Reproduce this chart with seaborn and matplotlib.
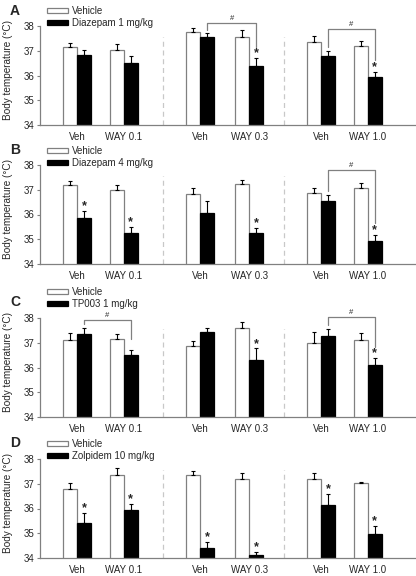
import numpy as np
import pandas as pd
import matplotlib
matplotlib.use("Agg")
import matplotlib.pyplot as plt
import seaborn as sns

# ── data (mean ± SEM, °C) ──────────────────────────────────────────
tick_labels = ["Veh", "WAY 0.1", "Veh", "WAY 0.3", "Veh", "WAY 1.0"]
panel_names = ["A", "B", "C", "D"]
drug_names = ["Diazepam 1 mg/kg", "Diazepam 4 mg/kg", "TP003 1 mg/kg", "Zolpidem 10 mg/kg"]

veh_A = [37.14, 37.03, 37.74, 37.54, 37.36, 37.18]
veh_sem_A = [0.16, 0.24, 0.16, 0.30, 0.24, 0.20]
drug_A = [36.81, 36.51, 37.57, 36.39, 36.79, 35.95]
drug_sem_A = [0.23, 0.28, 0.13, 0.30, 0.21, 0.21]
stars_A = [0, 0, 0, 1, 0, 1]

veh_B = [37.19, 36.97, 36.83, 37.24, 36.88, 37.09]
veh_sem_B = [0.16, 0.24, 0.24, 0.16, 0.20, 0.17]
drug_B = [35.87, 35.24, 36.07, 35.24, 36.55, 34.92]
drug_sem_B = [0.27, 0.27, 0.48, 0.21, 0.24, 0.27]
stars_B = [1, 1, 0, 1, 0, 1]

veh_C = [37.12, 37.15, 36.86, 37.60, 36.97, 37.11]
veh_sem_C = [0.27, 0.20, 0.22, 0.24, 0.46, 0.27]
drug_C = [37.37, 36.49, 37.42, 36.30, 37.27, 36.10]
drug_sem_C = [0.23, 0.23, 0.18, 0.47, 0.30, 0.27]
stars_C = [0, 0, 0, 1, 0, 1]

veh_D = [36.80, 37.35, 37.34, 37.19, 37.18, 37.02]
veh_sem_D = [0.23, 0.28, 0.18, 0.26, 0.26, 0.05]
drug_D = [35.41, 35.95, 34.40, 34.12, 36.15, 34.97]
drug_sem_D = [0.40, 0.24, 0.23, 0.12, 0.42, 0.34]
stars_D = [1, 1, 1, 1, 1, 1]

# "#" comparisons: (from bar, to bar, bracket height)
hash_A = [(2, 3, 38.12), (4, 5, 37.88)]
hash_B = [(4, 5, 37.80)]
hash_C = [(0, 1, 37.93), (4, 5, 38.04)]
hash_D = []

# ── layout ─────────────────────────────────────────────────────────
positions = [0, 1, 2.65, 3.7, 5.25, 6.25]
separators = [1.85, 4.45]
W, H = 416, 576
axes_px = [26, 165, 318, 459]          # top of each panel (px)
label_px = [11, 150, 302, 443]         # panel letter y (px)
legend_px = [11, 151, 292, 444]        # first legend row y (px)
GRAY = "#808080"

sns.set_theme(style="white")
plt.rcParams["font.family"] = ["Liberation Sans", "DejaVu Sans"]

panels = [
    (veh_A, veh_sem_A, drug_A, drug_sem_A, stars_A, hash_A),
    (veh_B, veh_sem_B, drug_B, drug_sem_B, stars_B, hash_B),
    (veh_C, veh_sem_C, drug_C, drug_sem_C, stars_C, hash_C),
    (veh_D, veh_sem_D, drug_D, drug_sem_D, stars_D, hash_D),
]

fig = plt.figure(figsize=(W / 100, H / 100), dpi=100)

for k, (veh, veh_sem, drug, drug_sem, stars, hashes) in enumerate(panels):
    top = axes_px[k]
    ax = fig.add_axes([40 / W, 1 - (top + 99) / H, 375 / W, 99 / H])

    df = pd.DataFrame({
        "pos": positions * 2,
        "temp": veh + drug,
        "treat": ["Vehicle"] * 6 + [drug_names[k]] * 6,
    })
    sns.barplot(data=df, x="pos", y="temp", hue="treat", native_scale=True,
                width=0.6, gap=0, errorbar=None, ax=ax,
                palette={"Vehicle": "white", drug_names[k]: "black"},
                linewidth=0.9, legend=False)

    veh_bars, drug_bars = ax.containers[0], ax.containers[1]
    for b in veh_bars:
        b.set_edgecolor(GRAY)
    for b in drug_bars:
        b.set_edgecolor("black")

    # upward SEM error bars
    for bars, sem in [(veh_bars, veh_sem), (drug_bars, drug_sem)]:
        xs = [b.get_x() + b.get_width() / 2 for b in bars]
        ys = [b.get_height() for b in bars]
        ax.errorbar(xs, ys, yerr=[np.zeros(len(sem)), sem], fmt="none",
                    ecolor="black", elinewidth=0.8, capsize=1.6, capthick=0.8)

    # significance stars
    for b, s, e in zip(drug_bars, stars, drug_sem):
        if s:
            ax.text(b.get_x() + b.get_width() / 2, b.get_height() + e - 0.05, "*",
                    ha="center", va="bottom", fontsize=9, fontweight="bold")

    # "#" brackets between drug bars
    for i, j, h in hashes:
        bi, bj = drug_bars[i], drug_bars[j]
        xi = bi.get_x() + bi.get_width() / 2
        xj = bj.get_x() + bj.get_width() / 2
        yi = bi.get_height() + drug_sem[i] + 0.15
        yj = bj.get_height() + drug_sem[j] + 0.45
        ax.plot([xi, xi, xj, xj], [yi, h, h, yj], color=GRAY, lw=0.9,
                clip_on=False)
        ax.text((xi + xj) / 2, h + 0.03, "#", ha="center", va="bottom",
                fontsize=5.5)

    for sx in separators:
        ax.plot([sx, sx], [34, 37.55], ls=(0, (4, 3)), color="#c8c8c8", lw=0.9)

    ax.set_xlim(-0.8, 7.27)
    ax.set_ylim(34, 38)
    ax.set_yticks([34, 35, 36, 37, 38])
    ax.set_xticks(positions)
    ax.set_xticklabels(tick_labels)
    ax.set_xlabel("")
    ax.set_ylabel("Body temperature (°C)", fontsize=7.2)
    ax.yaxis.set_label_coords(-0.072, 0.56)
    ax.tick_params(axis="x", length=0, pad=5, labelsize=7)
    ax.tick_params(axis="y", length=2.5, width=0.8, color=GRAY, pad=1.5,
                   labelsize=7, left=True)
    for side in ["top", "right"]:
        ax.spines[side].set_visible(False)
    for side in ["left", "bottom"]:
        ax.spines[side].set_color(GRAY)
        ax.spines[side].set_linewidth(0.9)

    # legend
    ly = 1 + (top - legend_px[k] + 5) / 99
    ax.legend([veh_bars[0], drug_bars[0]], ["Vehicle", drug_names[k]],
              loc="upper left", bbox_to_anchor=(0.018, ly),
              frameon=False, fontsize=7, handlelength=2.2,
              handleheight=0.4, handletextpad=0.4, labelspacing=0.22,
              borderpad=0, borderaxespad=0)

    fig.text(10 / W, 1 - label_px[k] / H, panel_names[k], fontsize=10,
             fontweight="bold", va="center", ha="left")

fig.savefig("out.png", dpi=100)
